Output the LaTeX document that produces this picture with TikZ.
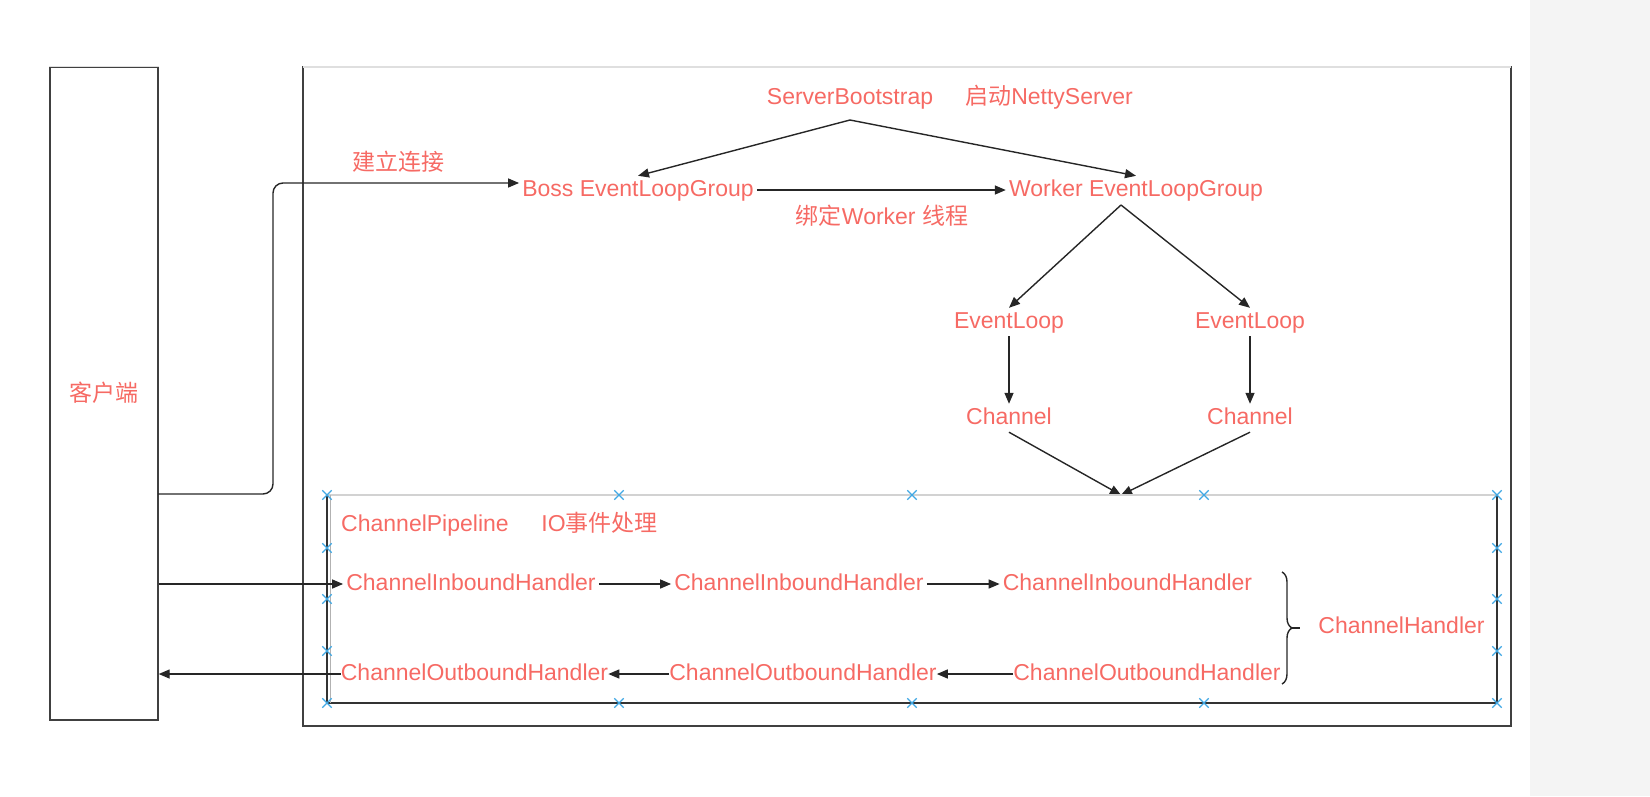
\documentclass[tikz,border=0pt]{standalone}
\usepackage{fontspec}
\setmainfont{Liberation Sans}
\newfontfamily\cjk{Noto Sans CJK SC}
\usetikzlibrary{arrows.meta,decorations.pathreplacing,shapes.misc}
\definecolor{lblred}{RGB}{246,106,100}
\definecolor{hdlblue}{RGB}{64,168,228}
\begin{document}
\begin{tikzpicture}[x=1pt, y=-1pt,
	lbl/.style={text=lblred, font=\fontsize{23}{27}\selectfont, text height=17pt, text depth=5pt, inner sep=3pt},
	arr/.style={-{Triangle[length=11pt,width=9pt]}, line width=1.4pt, black!85},
	ln/.style={line width=1.4pt, black!85},
	hdl/.style={cross out, draw=hdlblue, line width=1.3pt, minimum size=8pt, inner sep=0pt}]
	\useasboundingbox (0,0) rectangle (1650,796);
	\fill[gray!9] (1530,0) rectangle (1650,796);

	\draw[line width=1.4pt, black!75] (303,67) rectangle (1511,726);
	\draw[line width=1.6pt, gray!25] (303,67) -- (1511,67);
	\node[draw=black!75, line width=1.4pt, minimum width=108pt, minimum height=653pt, inner sep=0pt] (client) at (104,393.5) {};
	\draw[line width=1.6pt, gray!25] (client.north west) -- (client.north east);
	\node[lbl] at (104,395) {\cjk 客户端};

	\node[lbl] (sb) at (850,98) {ServerBootstrap};
	\node[lbl] at (1049,98) {{\cjk 启动}NettyServer};
	\node[lbl] (boss) at (638,190) {Boss EventLoopGroup};
	\node[lbl] (worker) at (1136,190) {Worker EventLoopGroup};
	\node[lbl] at (882,218) {{\cjk 绑定}Worker {\cjk 线程}};
	\node[lbl] at (398,164) {\cjk 建立连接};
	\node[lbl] (el1) at (1009,322) {EventLoop};
	\node[lbl] (el2) at (1250,322) {EventLoop};
	\node[lbl] (ch1) at (1009,418) {Channel};
	\node[lbl] (ch2) at (1250,418) {Channel};

	\coordinate (apex) at (850,120); \coordinate (wsplit) at (1121,205); \coordinate (merge) at (1121,495);
	\coordinate (cout) at (158,494); \coordinate (bend) at (273,183);

	\draw[arr] (apex) -- (boss.north);
	\draw[arr] (apex) -- (worker.north);
	\draw[arr] (boss) -- (worker);
	\draw[arr, rounded corners=10pt] (cout) -| (bend) -- (bend -| boss.west);
	\draw[arr] (wsplit) -- (el1.north);
	\draw[arr] (wsplit) -- (el2.north);
	\draw[arr] (el1) -- (ch1);
	\draw[arr] (el2) -- (ch2);
	\draw[arr] (ch1.south) -- (merge);
	\draw[arr] (ch2.south) -- (merge);

	\draw[line width=1.4pt, black!80] (327,495) rectangle (1497,703);
	\draw[line width=1.6pt, gray!35] (327,495) -- (1497,495);
	\draw[line width=1pt, gray!60] (330,495) -- (330,703);

	\node[lbl] at (425,525) {ChannelPipeline};
	\node[lbl] at (599.5,525) {IO{\cjk 事件处理}};
	\node[lbl] (in1) at (471,584) {ChannelInboundHandler};
	\node[lbl] (in2) at (799,584) {ChannelInboundHandler};
	\node[lbl] (in3) at (1127.5,584) {ChannelInboundHandler};
	\node[lbl, inner sep=0pt] (out1) at (474.5,674) {ChannelOutboundHandler};
	\node[lbl, inner sep=0pt] (out2) at (803,674) {ChannelOutboundHandler};
	\node[lbl, inner sep=0pt] (out3) at (1147,674) {ChannelOutboundHandler};
	\node[lbl] (handler) at (1401.5,627) {ChannelHandler};

	\draw[arr] (in1.west -| client.east) -- (in1.west);
	\draw[arr] (in1) -- (in2);
	\draw[arr] (in2) -- (in3);
	\draw[arr] (out3) -- (out2);
	\draw[arr] (out2) -- (out1);
	\draw[arr] (out1.west) -- (out1.west -| client.east);

	\draw[ln, decorate, decoration={brace, amplitude=10pt}] (1282,572) -- (1282,684) coordinate[midway] (bmid);
	\draw[ln] ([xshift=10pt]bmid) -- ([xshift=18pt]bmid);

	\foreach \x in {327,619,912,1204,1497}
		\node[hdl] at (\x,495) {} node[hdl] at (\x,703) {};
	\foreach \y in {548,599,651}
		\node[hdl] at (327,\y) {} node[hdl] at (1497,\y) {};
\end{tikzpicture}
\end{document}
